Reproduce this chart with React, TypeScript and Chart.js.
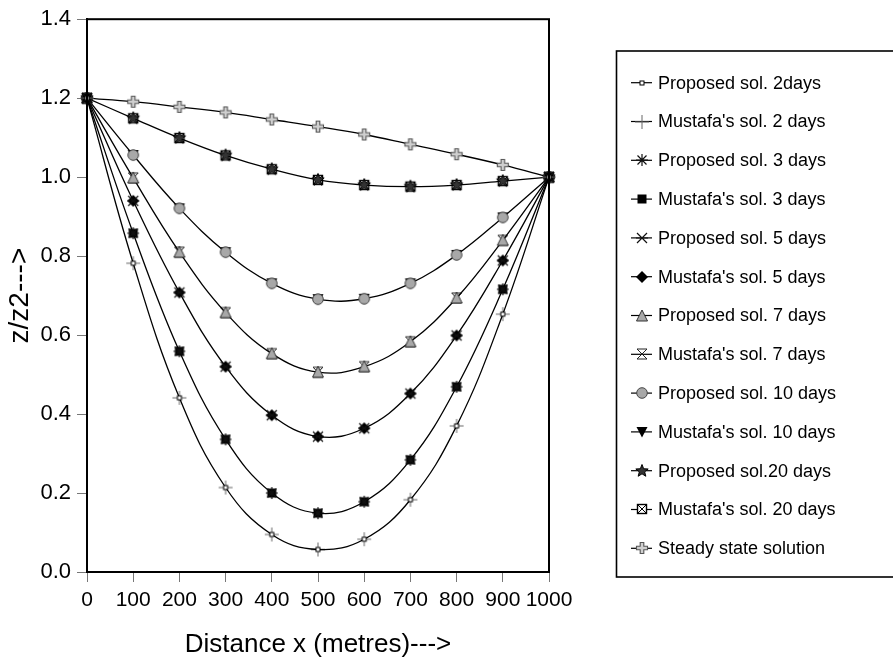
import React, { useEffect, useRef } from 'react';
import { Chart, registerables } from 'chart.js';

Chart.register(...registerables);

// ---------- data ----------
const distances = [0, 100, 200, 300, 400, 500, 600, 700, 800, 900, 1000];
const days2 = [1.2, 0.782, 0.441, 0.214, 0.095, 0.057, 0.083, 0.183, 0.37, 0.653, 1.0];
const days3 = [1.2, 0.858, 0.559, 0.336, 0.2, 0.149, 0.178, 0.284, 0.469, 0.716, 1.0];
const days5 = [1.2, 0.94, 0.708, 0.52, 0.397, 0.343, 0.364, 0.452, 0.599, 0.789, 1.0];
const days7 = [1.2, 0.998, 0.81, 0.657, 0.553, 0.506, 0.52, 0.583, 0.694, 0.84, 1.0];
const days10 = [1.2, 1.056, 0.921, 0.81, 0.731, 0.691, 0.692, 0.731, 0.803, 0.898, 1.0];
const days20 = [1.2, 1.149, 1.099, 1.055, 1.02, 0.993, 0.98, 0.976, 0.98, 0.99, 1.0];
const steady = [1.2, 1.191, 1.178, 1.164, 1.146, 1.128, 1.108, 1.083, 1.058, 1.031, 1.0];

const seriesLabels = [
  'Proposed sol. 2days',
  "Mustafa's sol. 2 days",
  'Proposed sol. 3 days',
  "Mustafa's sol. 3 days",
  'Proposed sol. 5 days',
  "Mustafa's sol. 5 days",
  'Proposed sol. 7 days',
  "Mustafa's sol. 7 days",
  'Proposed sol. 10 days',
  "Mustafa's sol. 10 days",
  'Proposed sol.20 days',
  "Mustafa's sol. 20 days",
  'Steady state solution',
];
const seriesValues = [days2, days2, days3, days3, days5, days5, days7, days7, days10, days10, days20, days20, steady];

const xTitle = 'Distance x (metres)--->';
const yTitle = 'z/z2--->';
const FONT = "'Liberation Sans', Arial, Helvetica, sans-serif";

// ---------- markers ----------
type Draw = (ctx: CanvasRenderingContext2D) => void;
function mk(size: number, draw: Draw): HTMLCanvasElement {
  const c = document.createElement('canvas');
  c.width = size;
  c.height = size;
  const ctx = c.getContext('2d')!;
  ctx.translate(size / 2, size / 2);
  draw(ctx);
  return c;
}

function makeMarkers(): HTMLCanvasElement[] {
  const smallSquare = mk(8, (c) => {
    c.fillStyle = '#fff';
    c.fillRect(-2, -2, 4, 4);
    c.strokeStyle = '#000';
    c.lineWidth = 1;
    c.strokeRect(-2, -2, 4, 4);
  });
  const thinPlus = mk(16, (c) => {
    c.strokeStyle = '#666';
    c.lineWidth = 1;
    c.beginPath();
    c.moveTo(-7, 0); c.lineTo(7, 0);
    c.moveTo(0, -7); c.lineTo(0, 7);
    c.stroke();
  });
  const asterisk8 = mk(14, (c) => {
    c.strokeStyle = '#111';
    c.lineWidth = 1.2;
    c.beginPath();
    c.moveTo(-6, 0); c.lineTo(6, 0);
    c.moveTo(0, -6); c.lineTo(0, 6);
    c.moveTo(-4.5, -4.5); c.lineTo(4.5, 4.5);
    c.moveTo(-4.5, 4.5); c.lineTo(4.5, -4.5);
    c.stroke();
  });
  const blackSquare = mk(12, (c) => {
    c.fillStyle = '#000';
    c.fillRect(-4.5, -4.5, 9, 9);
  });
  const asterisk6 = mk(14, (c) => {
    c.strokeStyle = '#111';
    c.lineWidth = 1.2;
    c.beginPath();
    c.moveTo(-6, 0); c.lineTo(6, 0);
    c.moveTo(-5, -5); c.lineTo(5, 5);
    c.moveTo(-5, 5); c.lineTo(5, -5);
    c.stroke();
  });
  const diamond = mk(14, (c) => {
    c.fillStyle = '#000';
    c.beginPath();
    c.moveTo(0, -6); c.lineTo(6, 0); c.lineTo(0, 6); c.lineTo(-6, 0);
    c.closePath();
    c.fill();
  });
  const triUp = mk(14, (c) => {
    c.fillStyle = '#a8a8a8';
    c.strokeStyle = '#333';
    c.lineWidth = 1;
    c.beginPath();
    c.moveTo(0, -6); c.lineTo(5.5, 5); c.lineTo(-5.5, 5);
    c.closePath();
    c.fill();
    c.stroke();
  });
  const hourglass = mk(14, (c) => {
    c.strokeStyle = '#222';
    c.lineWidth = 1;
    c.beginPath();
    c.moveTo(-5, -5); c.lineTo(5, -5); c.lineTo(-5, 5); c.lineTo(5, 5);
    c.closePath();
    c.stroke();
  });
  const circle = mk(14, (c) => {
    c.fillStyle = '#a8a8a8';
    c.strokeStyle = '#444';
    c.lineWidth = 1;
    c.beginPath();
    c.arc(0, 0, 5.3, 0, Math.PI * 2);
    c.fill();
    c.stroke();
  });
  const triDown = mk(14, (c) => {
    c.fillStyle = '#000';
    c.beginPath();
    c.moveTo(-5.5, -5); c.lineTo(5.5, -5); c.lineTo(0, 5.5);
    c.closePath();
    c.fill();
  });
  const star5 = mk(16, (c) => {
    c.fillStyle = '#333';
    c.strokeStyle = '#000';
    c.lineWidth = 1;
    c.beginPath();
    for (let i = 0; i < 10; i++) {
      const r = i % 2 === 0 ? 6.5 : 2.8;
      const a = -Math.PI / 2 + (i * Math.PI) / 5;
      const px = r * Math.cos(a);
      const py = r * Math.sin(a);
      if (i === 0) c.moveTo(px, py); else c.lineTo(px, py);
    }
    c.closePath();
    c.fill();
    c.stroke();
  });
  const squareX = mk(14, (c) => {
    c.strokeStyle = '#000';
    c.lineWidth = 1.4;
    c.fillStyle = '#fff';
    c.fillRect(-4.5, -4.5, 9, 9);
    c.strokeRect(-4.5, -4.5, 9, 9);
    c.lineWidth = 1;
    c.beginPath();
    c.moveTo(-4.5, -4.5); c.lineTo(4.5, 4.5);
    c.moveTo(-4.5, 4.5); c.lineTo(4.5, -4.5);
    c.stroke();
  });
  const plusOutline = mk(14, (c) => {
    c.fillStyle = '#cfcfcf';
    c.strokeStyle = '#555';
    c.lineWidth = 1.1;
    const a = 1.8, b = 5.5;
    c.beginPath();
    c.moveTo(-a, -b); c.lineTo(a, -b); c.lineTo(a, -a); c.lineTo(b, -a); c.lineTo(b, a);
    c.lineTo(a, a); c.lineTo(a, b); c.lineTo(-a, b); c.lineTo(-a, a); c.lineTo(-b, a);
    c.lineTo(-b, -a); c.lineTo(-a, -a);
    c.closePath();
    c.fill();
    c.stroke();
  });
  return [
    smallSquare, thinPlus, asterisk8, blackSquare, asterisk6, diamond,
    triUp, hourglass, circle, triDown, star5, squareX, plusOutline,
  ];
}

export default function App() {
  const ref = useRef<HTMLCanvasElement | null>(null);

  useEffect(() => {
    const canvas = ref.current;
    if (!canvas) return;
    const markers = makeMarkers();

    const datasets = seriesLabels.map((label, i) => ({
      label,
      data: distances.map((x, j) => ({ x, y: seriesValues[i][j] })),
      borderColor: '#000',
      backgroundColor: '#000',
      borderWidth: 1.3,
      showLine: i % 2 === 0 || i === seriesLabels.length - 1,
      tension: 0.4,
      fill: false,
      pointStyle: markers[i] as any,
      pointRadius: 5,
      clip: false as any,
    }));

    const frameLegend = {
      id: 'frameLegend',
      afterDraw(chart: any) {
        const ctx = chart.ctx as CanvasRenderingContext2D;
        const a = chart.chartArea;
        ctx.save();
        ctx.strokeStyle = '#000';
        ctx.lineWidth = 2;
        ctx.strokeRect(a.left, a.top, a.right - a.left, a.bottom - a.top);
        // legend box
        ctx.lineWidth = 1.6;
        ctx.strokeRect(616.5, 51, 300, 526);
        ctx.font = `18px ${FONT}`;
        ctx.textBaseline = 'middle';
        ctx.textAlign = 'left';
        ctx.fillStyle = '#000';
        seriesLabels.forEach((label, i) => {
          const y = 82.7 + i * 38.8;
          ctx.strokeStyle = '#000';
          ctx.lineWidth = 1.2;
          ctx.beginPath();
          ctx.moveTo(631, y);
          ctx.lineTo(652, y);
          ctx.stroke();
          const m = markers[i];
          ctx.drawImage(m, Math.round(641.5 - m.width / 2), Math.round(y - m.height / 2));
          ctx.fillText(label, 658, y + 1);
        });
        ctx.restore();
      },
    };

    const chart = new Chart(canvas, {
      type: 'line',
      data: { datasets: datasets as any },
      options: {
        responsive: false,
        animation: false,
        devicePixelRatio: 1,
        layout: { padding: { left: 0, right: 344, top: 15, bottom: 0 } },
        plugins: {
          legend: { display: false },
          tooltip: { enabled: false },
        },
        scales: {
          x: {
            type: 'linear',
            min: 0,
            max: 1000,
            ticks: {
              stepSize: 100,
              color: '#000',
              font: { family: FONT, size: 21 },
              padding: 6,
              maxRotation: 0,
              autoSkip: false,
              callback: (v: any) => String(v),
            },
            grid: { drawOnChartArea: false, drawTicks: true, tickLength: 10, color: '#777', lineWidth: 1 },
            border: { color: '#000', width: 2 },
            title: {
              display: true,
              text: xTitle,
              color: '#000',
              font: { family: FONT, size: 26 },
              padding: { top: 0, bottom: 1 },
            },
            afterFit: (s: any) => { s.height = 89; },
          },
          y: {
            type: 'linear',
            min: 0,
            max: 1.4,
            ticks: {
              stepSize: 0.2,
              color: '#000',
              font: { family: FONT, size: 22 },
              padding: 6,
              callback: (v: any) => Number(v).toFixed(1),
            },
            grid: { drawOnChartArea: false, drawTicks: true, tickLength: 10, color: '#777', lineWidth: 1 },
            border: { color: '#000', width: 2 },
            title: {
              display: true,
              text: yTitle,
              color: '#000',
              font: { family: FONT, size: 28 },
              padding: { top: 3, bottom: 0 },
            },
            afterFit: (s: any) => { s.width = 87; },
          },
        },
      },
      plugins: [frameLegend],
    });

    return () => chart.destroy();
  }, []);

  return (
    <div style={{ position: 'fixed', left: 0, top: 0, width: 893, height: 661, background: '#fff' }}>
      <canvas ref={ref} width={893} height={661} style={{ display: 'block' }} />
    </div>
  );
}
